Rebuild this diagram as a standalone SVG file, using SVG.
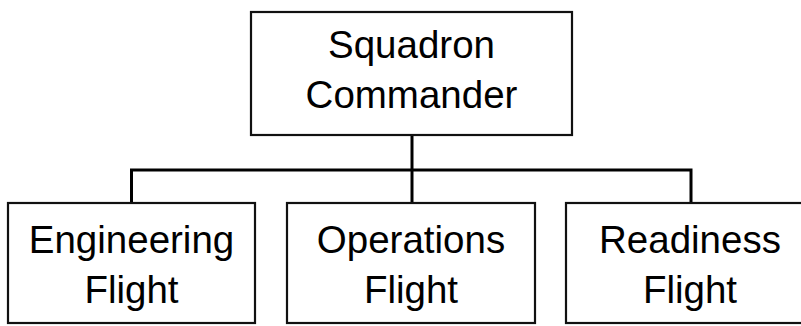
<svg xmlns="http://www.w3.org/2000/svg" width="801" height="326" viewBox="0 0 801 326">
<style>
.box{fill:#fff;stroke:#111;stroke-width:2.2}
.lbl{font-family:"Liberation Sans",Arial,sans-serif;font-size:38.5px;fill:#000;text-anchor:middle}
.conn{fill:none;stroke:#000;stroke-width:3}
</style>
<rect width="801" height="326" fill="#fff"/>
<g id="connectors">
<path class="conn" d="M412 135 V203"/>
<path class="conn" d="M131.5 203 V170 H691 V203"/>
</g>
<g id="squadron-commander">
<rect class="box" x="251" y="12" width="321" height="123"/>
<text class="lbl" x="411.5" y="58">Squadron</text>
<text class="lbl" x="411.5" y="108">Commander</text>
</g>
<g id="engineering-flight">
<rect class="box" x="8" y="203" width="247" height="120"/>
<text class="lbl" x="131.5" y="253">Engineering</text>
<text class="lbl" x="131.5" y="303">Flight</text>
</g>
<g id="operations-flight">
<rect class="box" x="287" y="203" width="248" height="120"/>
<text class="lbl" x="411" y="253">Operations</text>
<text class="lbl" x="411" y="303">Flight</text>
</g>
<g id="readiness-flight">
<rect class="box" x="566" y="203" width="250" height="120"/>
<text class="lbl" x="690" y="253">Readiness</text>
<text class="lbl" x="690" y="303">Flight</text>
</g>
</svg>
